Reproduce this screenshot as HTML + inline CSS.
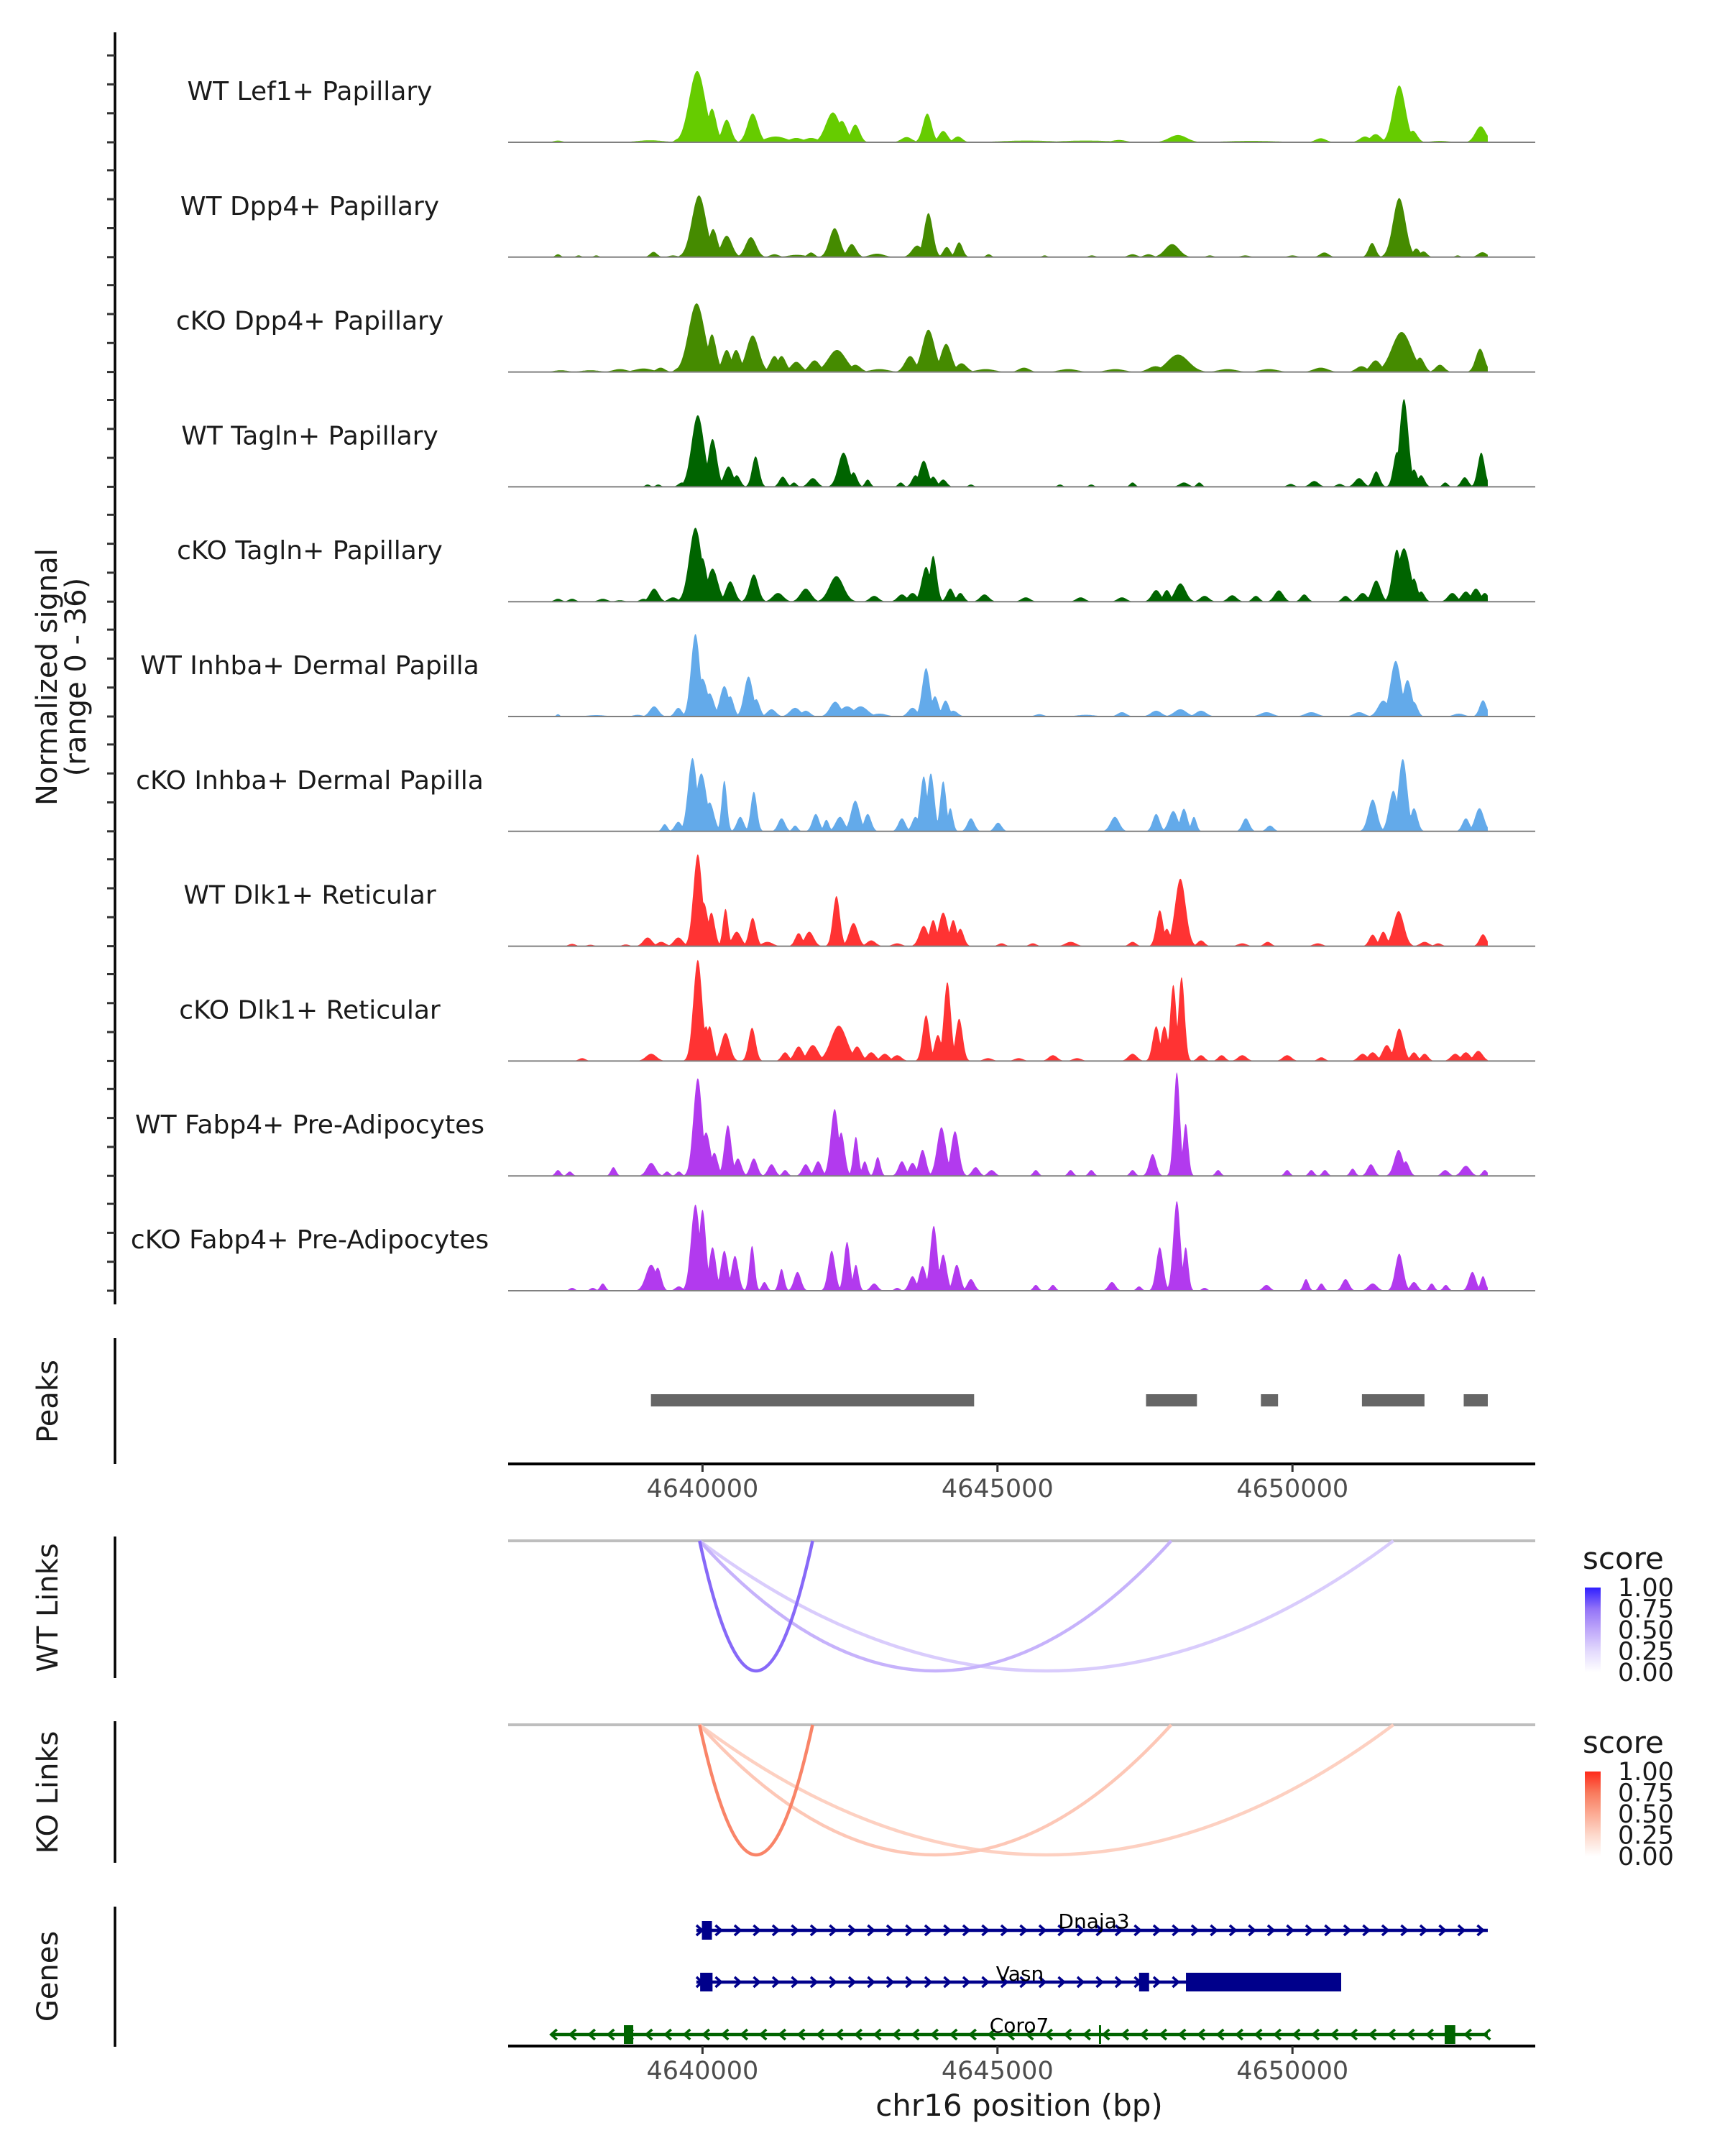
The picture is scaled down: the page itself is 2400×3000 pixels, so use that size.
<!DOCTYPE html>
<html><head><meta charset="utf-8"><title>Coverage plot chr16</title>
<style>
html,body{margin:0;padding:0;background:#fff;}
svg{display:block;font-family:"DejaVu Sans","Liberation Sans",sans-serif;}
</style></head>
<body>
<svg id="fig" xmlns="http://www.w3.org/2000/svg" width="2400" height="3000" viewBox="0 0 2400 3000">
<rect x="0" y="0" width="2400" height="3000" fill="#ffffff"/>
<defs>
<linearGradient id="gBlue" x1="0" y1="1" x2="0" y2="0">
<stop offset="0" stop-color="#ffffff"/><stop offset="0.25" stop-color="#e3dafd"/><stop offset="0.5" stop-color="#bfa8fa"/><stop offset="0.75" stop-color="#9373f7"/><stop offset="1" stop-color="#2f1fff"/>
</linearGradient>
<linearGradient id="gRed" x1="0" y1="1" x2="0" y2="0">
<stop offset="0" stop-color="#ffffff"/><stop offset="0.25" stop-color="#fdd9cc"/><stop offset="0.5" stop-color="#fcab94"/><stop offset="0.75" stop-color="#f87a5d"/><stop offset="1" stop-color="#ff2a1a"/>
</linearGradient>
</defs>
<g transform="translate(83,942) rotate(-90)">
<text x="0" y="-4" text-anchor="middle" font-size="40" fill="#1a1a1a">Normalized signal</text>
<text x="0" y="36" text-anchor="middle" font-size="40" fill="#1a1a1a">(range 0 - 36)</text>
</g>
<text transform="translate(80,1950) rotate(-90)" text-anchor="middle" font-size="40" fill="#1a1a1a">Peaks</text>
<text transform="translate(80,2237) rotate(-90)" text-anchor="middle" font-size="40" fill="#1a1a1a">WT Links</text>
<text transform="translate(80,2494) rotate(-90)" text-anchor="middle" font-size="40" fill="#1a1a1a">KO Links</text>
<text transform="translate(80,2750) rotate(-90)" text-anchor="middle" font-size="40" fill="#1a1a1a">Genes</text>
<line x1="160" y1="45" x2="160" y2="1815" stroke="#000" stroke-width="3.5"/>
<line x1="160" y1="1862" x2="160" y2="2037" stroke="#000" stroke-width="3.5"/>
<line x1="160" y1="2138" x2="160" y2="2335" stroke="#000" stroke-width="3.5"/>
<line x1="160" y1="2395" x2="160" y2="2592" stroke="#000" stroke-width="3.5"/>
<line x1="160" y1="2653" x2="160" y2="2848" stroke="#000" stroke-width="3.5"/>
<g id="tracks"></g>
<g id="peaks"></g>
<g id="links"></g>
<g id="genes"></g>
<g id="axes"></g>
<text x="1418" y="2944" text-anchor="middle" font-size="42" fill="#1a1a1a">chr16 position (bp)</text>
<g>
<text x="2202" y="2183" font-size="42" fill="#1a1a1a">score</text>
<rect x="2205" y="2209" width="22" height="118" fill="url(#gBlue)"/>
</g>
<g>
<text x="2202" y="2439" font-size="42" fill="#1a1a1a">score</text>
<rect x="2205" y="2465" width="22" height="118" fill="url(#gRed)"/>
</g>
</svg>
<script>
// ---------- data ----------
const trackNames = ["WT Lef1+ Papillary","WT Dpp4+ Papillary","cKO Dpp4+ Papillary","WT Tagln+ Papillary","cKO Tagln+ Papillary","WT Inhba+ Dermal Papilla","cKO Inhba+ Dermal Papilla","WT Dlk1+ Reticular","cKO Dlk1+ Reticular","WT Fabp4+ Pre-Adipocytes","cKO Fabp4+ Pre-Adipocytes"];
const trackColors = ["#66cc00","#458b00","#458b00","#006400","#006400","#63aaea","#63aaea","#ff3333","#ff3333","#b23aee","#b23aee"];
// peaks: [position kb, height (0-36), width kb]
const peaksWTLef1 = [[4637.55,0.6,0.05],[4639.11,0.7,0.15],[4639.60,1.4,0.04],[4639.91,24.6,0.09],[4640.16,11.6,0.05],[4640.41,7.8,0.05],[4640.85,9.9,0.06],[4641.24,2,0.12],[4641.59,1.5,0.08],[4641.84,1.5,0.08],[4642.21,10.3,0.08],[4642.36,7.4,0.06],[4642.59,6.1,0.05],[4643.46,1.8,0.06],[4643.81,9.9,0.05],[4644.08,3.9,0.05],[4644.33,2,0.05],[4645.5,0.6,0.3],[4646.5,0.6,0.3],[4647.06,0.8,0.08],[4648.06,2.5,0.1],[4649.3,0.5,0.3],[4650.48,1.4,0.06],[4651.23,2,0.06],[4651.41,2.8,0.06],[4651.81,19.6,0.07],[4652.04,4,0.05],[4652.5,0.5,0.1],[4653.19,5.5,0.06]];
const peaksWTDpp4 = [[4637.55,1,0.03],[4637.9,0.6,0.03],[4638.2,0.6,0.03],[4639.17,1.8,0.04],[4639.5,0.6,0.05],[4639.94,21.3,0.08],[4640.18,9.7,0.05],[4640.41,7.4,0.06],[4640.82,6.9,0.06],[4641.22,1,0.05],[4641.6,0.8,0.1],[4641.84,1.6,0.04],[4642.24,10,0.06],[4642.53,4.5,0.05],[4642.96,1.2,0.08],[4643.64,4,0.06],[4643.83,15.2,0.05],[4644.14,3.5,0.04],[4644.35,5.1,0.04],[4644.85,1,0.03],[4645.8,0.6,0.03],[4646.6,0.6,0.04],[4647.29,1,0.05],[4647.56,1,0.05],[4647.96,4.5,0.08],[4648.6,0.6,0.04],[4649.2,0.6,0.05],[4650.0,0.6,0.05],[4650.54,1.6,0.05],[4651.35,4.9,0.04],[4651.81,20.4,0.07],[4652.1,3,0.04],[4652.22,2,0.04],[4652.8,0.6,0.03],[4653.22,1.7,0.05]];
const peaksKODpp4 = [[4637.6,0.6,0.08],[4638.1,0.6,0.1],[4638.6,1.0,0.08],[4639.0,1.2,0.1],[4639.29,1.5,0.05],[4639.60,1.5,0.04],[4639.90,23.7,0.09],[4640.16,13,0.05],[4640.41,7.6,0.05],[4640.57,7.6,0.05],[4640.85,12.6,0.07],[4641.22,5.5,0.05],[4641.34,5.5,0.05],[4641.59,3.5,0.06],[4641.90,4,0.06],[4642.28,7.6,0.1],[4642.59,2.5,0.06],[4643.0,1,0.1],[4643.52,5.5,0.06],[4643.83,14.6,0.07],[4644.13,9.7,0.06],[4644.39,3,0.06],[4644.8,1,0.1],[4645.45,1.5,0.06],[4646.2,1,0.1],[4647.0,1,0.1],[4647.68,2,0.08],[4648.06,6,0.12],[4648.9,1,0.1],[4649.6,1,0.1],[4650.48,1.5,0.08],[4651.17,2,0.06],[4651.41,4,0.06],[4651.85,13.8,0.11],[4652.16,5,0.05],[4652.50,2.5,0.05],[4653.18,8,0.05]];
const peaksWTTagln = [[4639.07,0.8,0.03],[4639.25,0.8,0.03],[4639.65,1.5,0.04],[4639.92,24.7,0.07],[4640.17,16.5,0.05],[4640.44,7,0.05],[4640.58,4,0.04],[4640.90,10.5,0.04],[4641.36,3.5,0.04],[4641.55,1.5,0.03],[4641.87,3,0.05],[4642.39,11.8,0.06],[4642.56,5,0.04],[4642.80,2.5,0.03],[4643.36,1.5,0.03],[4643.61,4,0.04],[4643.75,9,0.05],[4643.91,3.5,0.04],[4644.08,2.5,0.04],[4644.55,0.8,0.03],[4646.06,0.8,0.03],[4646.59,0.8,0.03],[4647.29,1.5,0.03],[4648.16,1.5,0.05],[4648.42,1.5,0.03],[4649.97,1,0.04],[4650.37,2,0.05],[4650.8,1,0.04],[4651.13,3,0.05],[4651.42,5.3,0.04],[4651.77,12,0.04],[4651.89,30.3,0.05],[4652.06,6,0.04],[4652.18,4,0.04],[4652.59,1.5,0.03],[4652.92,3.3,0.04],[4653.20,11.8,0.04]];
const peaksKOTagln = [[4637.55,1,0.04],[4637.79,1,0.04],[4638.31,1,0.05],[4638.60,0.5,0.05],[4639.0,1,0.04],[4639.18,4.5,0.05],[4639.5,1.5,0.05],[4639.88,25.5,0.07],[4640.00,15,0.05],[4640.17,11.4,0.06],[4640.47,7,0.05],[4640.87,9.4,0.05],[4641.28,3,0.06],[4641.75,4.5,0.06],[4642.27,8.8,0.08],[4642.91,2,0.05],[4643.38,2.5,0.05],[4643.56,3,0.05],[4643.79,12,0.05],[4643.91,15.8,0.04],[4644.20,4.5,0.04],[4644.37,3,0.04],[4644.78,2.5,0.05],[4645.48,1.5,0.05],[4646.41,1.5,0.05],[4647.11,1.5,0.05],[4647.69,4,0.05],[4647.87,4,0.04],[4648.10,6.3,0.06],[4648.51,2,0.05],[4648.98,2.2,0.05],[4649.38,2,0.04],[4649.77,3.9,0.05],[4650.20,2.5,0.04],[4650.90,2,0.04],[4651.19,3,0.05],[4651.42,7.3,0.05],[4651.77,18,0.05],[4651.89,18.4,0.07],[4652.06,8,0.04],[4652.18,3.5,0.04],[4652.71,3,0.05],[4652.94,3.5,0.05],[4653.11,4.5,0.05],[4653.26,3,0.04]];
const peaksWTInhba = [[4637.55,0.8,0.02],[4638.2,0.5,0.1],[4638.9,0.6,0.05],[4639.18,3.5,0.05],[4639.59,3,0.04],[4639.88,28.5,0.05],[4640.00,13,0.06],[4640.12,8,0.05],[4640.37,10.5,0.05],[4640.47,7,0.04],[4640.78,13.8,0.05],[4640.91,6,0.04],[4641.17,2.5,0.05],[4641.57,3,0.06],[4641.75,2,0.05],[4642.25,5.1,0.06],[4642.45,3.5,0.08],[4642.68,3.5,0.08],[4643.0,1,0.08],[4643.56,3,0.05],[4643.79,16.7,0.045],[4643.94,7,0.04],[4644.12,5.5,0.04],[4644.25,2,0.05],[4645.71,0.8,0.05],[4646.5,0.6,0.1],[4647.11,1.5,0.05],[4647.69,2,0.06],[4648.10,2.5,0.07],[4648.45,2,0.06],[4649.56,1.5,0.07],[4650.32,1.5,0.07],[4651.13,1.5,0.06],[4651.54,5.5,0.06],[4651.75,19.2,0.06],[4651.95,12.6,0.05],[4652.06,5,0.04],[4652.82,1,0.06],[4653.23,5.6,0.04]];
const peaksKOInhba = [[4639.36,2.5,0.03],[4639.59,3.3,0.04],[4639.83,25.3,0.05],[4639.98,20,0.06],[4640.12,10,0.05],[4640.37,17.5,0.03],[4640.64,5,0.04],[4640.87,13.7,0.035],[4641.34,4.5,0.04],[4641.57,2,0.03],[4641.92,6,0.04],[4642.10,4,0.03],[4642.33,5,0.05],[4642.59,10.6,0.05],[4642.80,6,0.04],[4643.38,4.5,0.04],[4643.61,5,0.04],[4643.75,19,0.04],[4643.87,20,0.04],[4644.08,17.3,0.035],[4644.20,8,0.03],[4644.55,4.5,0.04],[4645.01,3,0.04],[4646.99,5,0.05],[4647.69,6,0.04],[4647.98,7,0.05],[4648.16,7.8,0.04],[4648.33,5,0.03],[4649.21,4.5,0.04],[4649.62,2,0.04],[4651.36,11,0.05],[4651.71,14,0.05],[4651.87,25,0.05],[4652.06,8,0.04],[4652.94,4.5,0.04],[4653.17,8,0.05]];
const peaksWTDlk1 = [[4637.79,0.8,0.04],[4638.1,0.5,0.04],[4638.7,0.6,0.04],[4639.07,3,0.05],[4639.3,1.5,0.05],[4639.59,3,0.05],[4639.92,31.7,0.05],[4640.02,15,0.05],[4640.15,11.6,0.04],[4640.39,12.9,0.03],[4640.58,5,0.05],[4640.85,9.8,0.04],[4641.1,1.5,0.06],[4641.63,4.5,0.04],[4641.81,5,0.05],[4642.27,17.3,0.04],[4642.56,8,0.05],[4642.86,2,0.05],[4643.3,1,0.05],[4643.75,7,0.05],[4643.91,9,0.04],[4644.08,11.6,0.05],[4644.25,9,0.04],[4644.37,6,0.04],[4645.07,1,0.04],[4645.60,1,0.04],[4646.24,1.5,0.06],[4647.29,1.5,0.04],[4647.75,12.4,0.04],[4647.87,6,0.04],[4648.10,23.3,0.06],[4648.45,2,0.04],[4649.15,1,0.05],[4649.58,1.5,0.04],[4650.43,1,0.05],[4651.36,4,0.04],[4651.54,5,0.04],[4651.80,12.1,0.06],[4652.24,1.5,0.05],[4652.47,1,0.04],[4653.23,4.1,0.04]];
const peaksKODlk1 = [[4637.96,1,0.04],[4639.13,2.5,0.06],[4639.92,34.9,0.05],[4640.06,12,0.04],[4640.12,12,0.04],[4640.39,9.7,0.05],[4640.84,11.5,0.04],[4641.40,3,0.04],[4641.63,5,0.05],[4641.87,5.5,0.06],[4642.31,12.2,0.09],[4642.62,5,0.05],[4642.86,3,0.05],[4643.09,2.5,0.05],[4643.3,2,0.05],[4643.79,15.8,0.04],[4643.99,9,0.04],[4644.15,27.2,0.04],[4644.35,14.6,0.04],[4644.84,1,0.05],[4645.36,1,0.05],[4645.94,2,0.05],[4646.35,1,0.05],[4647.29,2.5,0.05],[4647.69,12,0.04],[4647.83,12,0.04],[4647.98,26.3,0.035],[4648.12,29,0.035],[4648.45,2,0.04],[4648.80,2,0.04],[4649.15,2,0.05],[4649.91,2,0.05],[4650.49,1.3,0.04],[4651.19,2.5,0.05],[4651.36,3,0.05],[4651.60,5.5,0.05],[4651.81,11.2,0.05],[4652.06,3,0.04],[4652.24,2.5,0.04],[4652.76,2.5,0.05],[4652.94,3,0.05],[4653.15,3.5,0.05]];
const peaksWTFabp4 = [[4637.55,2,0.03],[4637.75,1.5,0.03],[4638.49,3,0.03],[4639.13,4.5,0.05],[4639.4,1.5,0.03],[4639.6,1.5,0.03],[4639.92,33.7,0.05],[4640.06,15,0.05],[4640.2,8,0.04],[4640.43,17.5,0.04],[4640.6,6,0.04],[4640.87,6,0.04],[4641.17,4,0.04],[4641.4,2,0.03],[4641.75,4,0.04],[4641.96,5,0.04],[4642.24,23.1,0.045],[4642.35,15,0.04],[4642.60,13.5,0.03],[4642.75,5,0.03],[4642.97,6.5,0.03],[4643.38,5,0.04],[4643.56,4.5,0.04],[4643.73,9,0.04],[4644.05,16.8,0.05],[4644.28,15.4,0.045],[4644.63,3,0.04],[4644.90,2,0.04],[4645.65,2,0.03],[4646.24,2,0.03],[4646.59,2,0.03],[4647.29,2,0.03],[4647.63,7.5,0.04],[4648.04,35.8,0.035],[4648.19,18,0.03],[4648.74,2,0.03],[4649.91,2,0.03],[4650.32,2,0.03],[4650.55,2,0.03],[4651.02,2.5,0.03],[4651.33,4,0.04],[4651.80,9,0.05],[4651.92,5,0.04],[4652.59,2,0.04],[4652.94,3.5,0.05],[4653.26,2,0.03]];
const peaksKOFabp4 = [[4637.79,1,0.03],[4638.14,1,0.03],[4638.31,2.5,0.03],[4639.13,9,0.06],[4639.24,8,0.04],[4639.6,1.5,0.04],[4639.88,29.7,0.05],[4640.00,28,0.04],[4640.17,15,0.04],[4640.37,13.8,0.04],[4640.55,12,0.04],[4640.84,15.5,0.03],[4641.05,3,0.03],[4641.34,7.5,0.03],[4641.61,6.5,0.04],[4642.19,13.8,0.04],[4642.45,16.9,0.035],[4642.60,9,0.03],[4642.91,2.5,0.04],[4643.3,1,0.03],[4643.56,5,0.04],[4643.73,8.5,0.04],[4643.92,22.4,0.04],[4644.08,12.5,0.04],[4644.31,9,0.04],[4644.55,4,0.04],[4645.65,2,0.03],[4645.94,2,0.03],[4646.94,3,0.04],[4647.4,1.5,0.03],[4647.75,15,0.04],[4648.04,31,0.04],[4648.19,15,0.03],[4648.51,1,0.03],[4649.56,2,0.04],[4650.23,4,0.03],[4650.49,2.5,0.03],[4650.90,4,0.04],[4651.36,2.5,0.05],[4651.81,12.8,0.045],[4652.06,3,0.04],[4652.36,2.5,0.03],[4652.6,2,0.03],[4653.05,6.5,0.04],[4653.23,5,0.03]];
const trackPeaks = [peaksWTLef1,peaksWTDpp4,peaksKODpp4,peaksWTTagln,peaksKOTagln,peaksWTInhba,peaksKOInhba,peaksWTDlk1,peaksKODlk1,peaksWTFabp4,peaksKOFabp4];
const peakStarts = [4639.126,4647.518,4649.465,4651.178,4652.903];
const peakEnds   = [4644.604,4648.381,4649.756,4652.238,4653.311];
const linkStarts = [4639.95,4639.95,4639.95];
const linkEnds   = [4641.866,4647.945,4651.711];
const wtScores   = [0.78,0.45,0.32];
const koScores   = [0.70,0.35,0.30];
const xTicks     = [4640000,4645000,4650000];
const legendTicks = ["1.00","0.75","0.50","0.25","0.00"];
const geneNames  = ["Dnaja3","Vasn","Coro7"];
const geneStarts = [4639.897,4639.897,4637.434];
const geneEnds   = [4653.311,4650.826,4653.311];
const geneStrand = [1,1,-1];
const geneExons  = [[[4639.99,4640.16]],[[4639.96,4640.17],[4647.40,4647.57],[4648.195,4650.826]],[[4638.667,4638.826],[4646.72,4646.74],[4652.58,4652.76]]];

// ---------- scales ----------
const NS="http://www.w3.org/2000/svg";
const PX0=707, PX1=2136;
const widthScale=1.5;
const xs = kb => 977.4 + (kb-4640)*82.08;
const base0=198, trackGap=159.8, unit=4.03;
const ys = (i,v) => base0 + i*trackGap - Math.min(v,36)*unit;
function mk(tag, attrs, parent){const e=document.createElementNS(NS,tag);for(const k in attrs)e.setAttribute(k,attrs[k]);parent.appendChild(e);return e;}
const blueStops=[[0,[255,255,255]],[0.25,[227,218,253]],[0.5,[191,168,250]],[0.75,[147,115,247]],[1,[47,31,255]]];
const redStops=[[0,[255,255,255]],[0.25,[253,217,204]],[0.5,[252,171,148]],[0.75,[248,122,93]],[1,[255,42,26]]];
function col(stops,s){for(let i=1;i<stops.length;i++){if(s<=stops[i][0]){const a=stops[i-1],b=stops[i],t=(s-a[0])/(b[0]-a[0]);const c=a[1].map((v,j)=>Math.round(v+(b[1][j]-v)*t));return `rgb(${c.join(',')})`;}}return 'rgb(47,31,255)';}

// ---------- signal tracks ----------
const gT=document.getElementById('tracks');
const axisG=document.getElementById('axes');
for(let i=0;i<trackNames.length;i++){
  const base=base0+i*trackGap;
  const lbl=mk('text',{x:431,y:base-59,'text-anchor':'middle','font-size':36,fill:'#1a1a1a'},gT);
  lbl.textContent=trackNames[i];
  
  
  let d=`M${xs(4637.3).toFixed(1)},${base}`;
  for(let kb=4637.3;kb<=4653.311;kb+=0.01){
    let v=0;
    for(const p of trackPeaks[i]){const z=(kb-p[0])/(p[2]*widthScale);if(Math.abs(z)<4){const g=p[1]*Math.exp(-0.5*z*z);if(g>v)v=g;}}
    if(v<0.2)v=0;
    d+=`L${xs(kb).toFixed(1)},${ys(i,v).toFixed(1)}`;
  }
  d+=`L${xs(4653.311).toFixed(1)},${base}Z`;
  const area=mk('path',{d:d,fill:trackColors[i],stroke:'none'},gT);
  
  
  const bl=mk('line',{x1:PX0,y1:base,x2:PX1,y2:base,stroke:'#808080','stroke-width':2},gT);
  
  
  for(let j=0;j<4;j++){
    const ty=base-j*10*unit;
    const tk=mk('line',{x1:149,y1:ty,x2:160,y2:ty,stroke:'#333','stroke-width':3},gT);
    
    
  }
}

// ---------- peaks ----------
const gP=document.getElementById('peaks');
for(let i=0;i<peakStarts.length;i++){
  const r=mk('rect',{x:xs(peakStarts[i]),y:1940,width:xs(peakEnds[i])-xs(peakStarts[i]),height:17,fill:'#666666'},gP);
  
  
}

// ---------- x axes ----------
function xAxis(y){
  const l=mk('line',{x1:PX0,y1:y,x2:PX1,y2:y,stroke:'#000','stroke-width':4},axisG);
  
  
  for(const t of xTicks){
    const x=xs(t/1000);
    const tk=mk('line',{x1:x,y1:y,x2:x,y2:y+11,stroke:'#333','stroke-width':3},axisG);
    
    
    const tl=mk('text',{x:x,y:y+46,'text-anchor':'middle','font-size':35,fill:'#4d4d4d'},axisG);
    tl.textContent=String(t);
    
    
  }
}
xAxis(2037);
xAxis(2847);

// ---------- links ----------
const gL=document.getElementById('links');
function links(top,scores,stops){
  const tl=mk('line',{x1:PX0,y1:top,x2:PX1,y2:top,stroke:'#bebebe','stroke-width':4},gL);
  
  
  const depth=181;
  const order=scores.map((s,i)=>i).sort((a,b)=>scores[a]-scores[b]);
  for(const i of order){
    const x1=xs(linkStarts[i]),x2=xs(linkEnds[i]);
    const p=mk('path',{d:`M${x1},${top} Q${(x1+x2)/2},${top+2*depth} ${x2},${top}`,fill:'none',stroke:col(stops,scores[i]),'stroke-width':4.5},gL);
    
    
  }
}
links(2144,wtScores,blueStops);
links(2400,koScores,redStops);
function legendLabels(top){
  for(let k=0;k<legendTicks.length;k++){
    const y=top+k*29.5;
    const t=mk('text',{x:2251,y:y+12,'font-size':35,fill:'#1a1a1a'},gL);
    t.textContent=legendTicks[k];
    
    
    const a=mk('line',{x1:2205,y1:y,x2:2210,y2:y,stroke:'#fff','stroke-width':2},gL);
    
    
  }
}
legendLabels(2209);
legendLabels(2465);

// ---------- genes ----------
const gG=document.getElementById('genes');
const geneY=[2686,2758,2831], geneCol=['#00008b','#00008b','#006400'], labelY=[2683,2756,2828], labelX=[1522,1419,1418];
for(let g=0;g<geneNames.length;g++){
  const y=geneY[g], c=geneCol[g];
  const x1=xs(geneStarts[g]), x2=xs(geneEnds[g]);
  const ln=mk('line',{x1:x1,y1:y,x2:x2,y2:y,stroke:c,'stroke-width':4.5},gG);
  
  
  for(let x=x1+4;x<=x2+1;x+=26.5){
    const s=geneStrand[g];
    const ch=mk('polyline',{points:`${x-4*s},${y-7} ${x+4*s},${y} ${x-4*s},${y+7}`,fill:'none',stroke:c,'stroke-width':3.5},gG);
    
    
  }
  for(const e of geneExons[g]){
    const ex=mk('rect',{x:xs(e[0]),y:y-13,width:Math.max(3,xs(e[1])-xs(e[0])),height:26,fill:c},gG);
    
    
  }
  const lb=mk('text',{x:labelX[g],y:labelY[g],'text-anchor':'middle','font-size':28,fill:'#000'},gG);
  lb.textContent=geneNames[g];
  
  
}
</script>
</body></html>
